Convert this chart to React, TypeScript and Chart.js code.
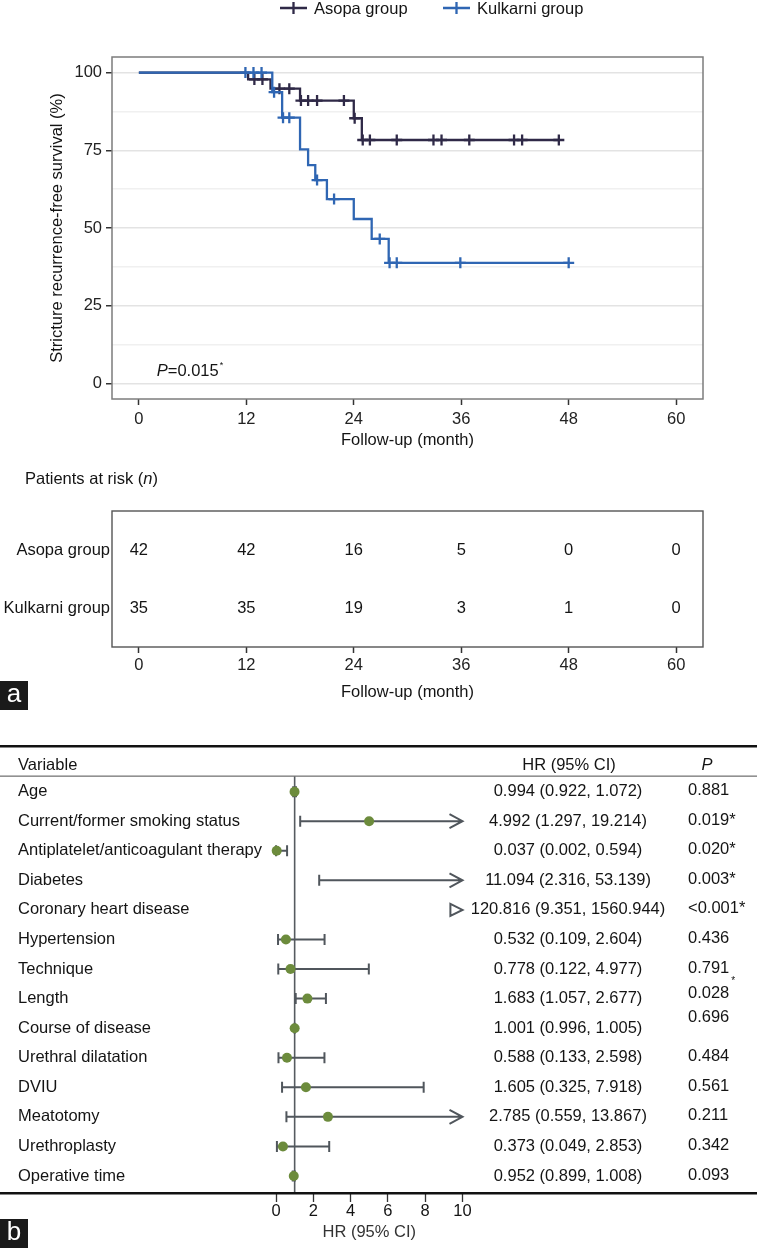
import React, { useEffect, useRef } from 'react';
import { Chart, registerables } from 'chart.js';

Chart.register(...registerables);

// ---------------- Data ----------------
// Kaplan–Meier: Asopa group
const asopaEventTimes = [0, 12.2, 14.7, 18.0, 24.0, 24.9];
const asopaSurvival = [100, 97.8, 94.8, 91.0, 85.3, 78.3];
const asopaCensorTimes = [12.9, 13.8, 15.7, 16.8, 18.1, 18.9, 19.9, 22.9, 24.1, 25.0, 25.8, 28.8, 32.9, 33.8, 36.9, 41.9, 42.8, 46.9];
// Kaplan–Meier: Kulkarni group
const kulkarniEventTimes = [0, 14.9, 16.0, 18.0, 18.9, 19.7, 21.0, 24.0, 26.0, 27.9];
const kulkarniSurvival = [100, 93.7, 85.5, 75.3, 70.2, 65.4, 59.3, 52.9, 46.5, 38.8];
const kulkarniCensorTimes = [11.9, 12.8, 13.7, 15.1, 16.1, 16.8, 19.9, 21.8, 26.9, 28.0, 28.8, 35.9, 48.0];

const monthTicks = [0, 12, 24, 36, 48, 60];
const survivalGrid = [0, 12.5, 25, 37.5, 50, 62.5, 75, 87.5, 100];

// Risk table
const riskGroups = ['Asopa group', 'Kulkarni group'];
const riskTimes = [0, 12, 24, 36, 48, 60];
const asopaAtRisk = [42, 42, 16, 5, 0, 0];
const kulkarniAtRisk = [35, 35, 19, 3, 1, 0];

// Forest plot
const variables = [
  'Age',
  'Current/former smoking status',
  'Antiplatelet/anticoagulant therapy',
  'Diabetes',
  'Coronary heart disease',
  'Hypertension',
  'Technique',
  'Length',
  'Course of disease',
  'Urethral dilatation',
  'DVIU',
  'Meatotomy',
  'Urethroplasty',
  'Operative time',
];
const hazardRatio = [0.994, 4.992, 0.037, 11.094, 120.816, 0.532, 0.778, 1.683, 1.001, 0.588, 1.605, 2.785, 0.373, 0.952];
const lowerCI = [0.922, 1.297, 0.002, 2.316, 9.351, 0.109, 0.122, 1.057, 0.996, 0.133, 0.325, 0.559, 0.049, 0.899];
const upperCI = [1.072, 19.214, 0.594, 53.139, 1560.944, 2.604, 4.977, 2.677, 1.005, 2.598, 7.918, 13.867, 2.853, 1.008];
const pValues = ['0.881', '0.019*', '0.020*', '0.003*', '<0.001*', '0.436', '0.791', '0.028', '0.696', '0.484', '0.561', '0.211', '0.342', '0.093'];
const hrTicks = [0, 2, 4, 6, 8, 10];

// ---------------- Styles ----------------
const FONT = '"Liberation Sans", Arial, Helvetica, sans-serif';
const FS = 16.5;
const PURPLE = '#2f2947';
const BLUE = '#2f66b3';
const GREEN = '#6c8b3c';
const CI_GREY = '#50565c';
const TEXT = '#141414';

function survivalAt(times: number[], surv: number[], t: number) {
  let s = surv[0];
  for (let i = 0; i < times.length; i++) if (times[i] <= t) s = surv[i];
  return s;
}
function stepData(times: number[], surv: number[], censors: number[]) {
  const pts = times.map((t, i) => ({ x: t, y: surv[i] }));
  const end = Math.max(...censors, ...times);
  pts.push({ x: end, y: survivalAt(times, surv, end) });
  return pts;
}
function censorData(times: number[], surv: number[], censors: number[]) {
  return censors.map((c) => ({ x: c, y: survivalAt(times, surv, c) }));
}

const kmDecor = {
  id: 'kmDecor',
  beforeDatasetsDraw(chart: any) {
    const { ctx, chartArea: a } = chart;
    ctx.save();
    ctx.strokeStyle = '#7c7c7c';
    ctx.lineWidth = 1.5;
    ctx.strokeRect(a.left, a.top, a.right - a.left, a.bottom - a.top);
    ctx.restore();
  },
  afterDraw(chart: any) {
    const { ctx, scales } = chart;
    ctx.save();
    // legend
    const items = [
      { label: 'Asopa group', color: PURPLE, x: 280 },
      { label: 'Kulkarni group', color: BLUE, x: 443 },
    ];
    const ly = 8;
    items.forEach((it) => {
      ctx.strokeStyle = it.color;
      ctx.lineWidth = 2.3;
      ctx.beginPath();
      ctx.moveTo(it.x, ly);
      ctx.lineTo(it.x + 27, ly);
      ctx.moveTo(it.x + 13.5, ly - 6);
      ctx.lineTo(it.x + 13.5, ly + 6);
      ctx.stroke();
      ctx.fillStyle = TEXT;
      ctx.font = `${FS}px ${FONT}`;
      ctx.textBaseline = 'middle';
      ctx.textAlign = 'left';
      ctx.fillText(it.label, it.x + 34, ly + 1);
    });
    // P value annotation
    const px = scales.x.getPixelForValue(2);
    const py = scales.y.getPixelForValue(4);
    ctx.fillStyle = TEXT;
    ctx.textBaseline = 'middle';
    ctx.font = `italic ${FS}px ${FONT}`;
    ctx.fillText('P', px, py);
    let w = ctx.measureText('P').width;
    ctx.font = `${FS}px ${FONT}`;
    ctx.fillText('=0.015', px + w, py);
    w += ctx.measureText('=0.015').width;
    ctx.font = `9px ${FONT}`;
    ctx.fillText('*', px + w + 1, py - 6);
    ctx.restore();
  },
};

const riskDecor = {
  id: 'riskDecor',
  afterDraw(chart: any) {
    const { ctx, chartArea: a, scales } = chart;
    ctx.save();
    ctx.strokeStyle = '#555';
    ctx.lineWidth = 1.4;
    ctx.strokeRect(a.left, a.top, a.right - a.left, a.bottom - a.top);
    ctx.fillStyle = TEXT;
    ctx.font = `${FS}px ${FONT}`;
    ctx.textBaseline = 'middle';
    ctx.textAlign = 'center';
    [asopaAtRisk, kulkarniAtRisk].forEach((row, r) => {
      const y = scales.y.getPixelForValue(r + 1);
      row.forEach((n, i) => {
        ctx.fillText(String(n), scales.x.getPixelForValue(riskTimes[i]), y);
      });
    });
    // heading
    ctx.textAlign = 'left';
    const t1 = 'Patients at risk (';
    ctx.fillText(t1, 25, 24);
    let w = ctx.measureText(t1).width;
    ctx.font = `italic ${FS}px ${FONT}`;
    ctx.fillText('n', 25 + w, 24);
    w += ctx.measureText('n').width;
    ctx.font = `${FS}px ${FONT}`;
    ctx.fillText(')', 25 + w, 24);
    // panel label
    ctx.fillStyle = '#1a1a1a';
    ctx.fillRect(0, 226, 28, 29);
    ctx.fillStyle = '#fff';
    ctx.font = `26px ${FONT}`;
    ctx.textAlign = 'center';
    ctx.fillText('a', 14, 240);
    ctx.restore();
  },
};

const forestDecor = {
  id: 'forestDecor',
  beforeDatasetsDraw(chart: any) {
    const { ctx, chartArea: a, scales } = chart;
    const { x, y } = scales;
    ctx.save();
    const x1 = x.getPixelForValue(1);
    ctx.strokeStyle = '#565b60';
    ctx.lineWidth = 1.6;
    ctx.beginPath();
    ctx.moveTo(x1, a.top);
    ctx.lineTo(x1, a.bottom);
    ctx.stroke();
    ctx.strokeStyle = CI_GREY;
    ctx.lineWidth = 2;
    const cap = 5.5;
    variables.forEach((_, i) => {
      const py = y.getPixelForValue(i + 1);
      const lo = lowerCI[i];
      const hi = upperCI[i];
      const pl = x.getPixelForValue(Math.max(lo, x.min));
      const ph = x.getPixelForValue(Math.min(hi, x.max));
      ctx.beginPath();
      if (hi > x.max && ph - pl < 14) {
        ctx.moveTo(pl, py - 6);
        ctx.lineTo(ph, py);
        ctx.lineTo(pl, py + 6);
        ctx.closePath();
        ctx.stroke();
        return;
      }
      ctx.moveTo(pl, py);
      ctx.lineTo(ph, py);
      ctx.moveTo(pl, py - cap);
      ctx.lineTo(pl, py + cap);
      if (hi > x.max) {
        ctx.moveTo(ph - 13, py - 7);
        ctx.lineTo(ph, py);
        ctx.lineTo(ph - 13, py + 7);
      } else {
        ctx.moveTo(ph, py - cap);
        ctx.lineTo(ph, py + cap);
      }
      ctx.stroke();
    });
    ctx.restore();
  },
  afterDraw(chart: any) {
    const { ctx, scales } = chart;
    const { y } = scales;
    const W = chart.width;
    ctx.save();
    // rules
    ctx.fillStyle = '#111';
    ctx.fillRect(0, 25, W, 2.5);
    ctx.fillStyle = '#777';
    ctx.fillRect(0, 55.5, W, 1.3);
    ctx.fillStyle = '#111';
    ctx.fillRect(0, 472, W, 2.5);
    // header
    ctx.fillStyle = TEXT;
    ctx.textBaseline = 'middle';
    ctx.font = `${FS}px ${FONT}`;
    ctx.textAlign = 'left';
    ctx.fillText('Variable', 18, 45);
    ctx.textAlign = 'center';
    ctx.fillText('HR (95% CI)', 569, 45);
    ctx.font = `italic ${FS}px ${FONT}`;
    ctx.fillText('P', 707, 45);
    // rows
    ctx.font = `${FS}px ${FONT}`;
    variables.forEach((v, i) => {
      const py = y.getPixelForValue(i + 1);
      ctx.textAlign = 'left';
      ctx.fillText(v, 18, py);
      ctx.textAlign = 'center';
      const hrText = `${hazardRatio[i].toFixed(3)} (${lowerCI[i].toFixed(3)}, ${upperCI[i].toFixed(3)})`;
      ctx.fillText(hrText, 568, py);
      ctx.textAlign = 'left';
      let dy = -1;
      if (i === 7) dy = -5;
      if (i === 8) dy = -11;
      ctx.fillText(pValues[i], 688, py + dy);
      if (i === 7) {
        const w = ctx.measureText(pValues[i]).width;
        ctx.font = `10px ${FONT}`;
        ctx.fillText('*', 688 + w + 2, py - 17);
        ctx.font = `${FS}px ${FONT}`;
      }
    });
    // panel label
    ctx.fillStyle = '#1a1a1a';
    ctx.fillRect(0, 499, 28, 29);
    ctx.fillStyle = '#fff';
    ctx.font = `26px ${FONT}`;
    ctx.textAlign = 'center';
    ctx.fillText('b', 14, 513);
    ctx.restore();
  },
};

const tickFont = { family: FONT, size: FS };

export default function App() {
  const kmRef = useRef<HTMLCanvasElement>(null);
  const riskRef = useRef<HTMLCanvasElement>(null);
  const forestRef = useRef<HTMLCanvasElement>(null);

  useEffect(() => {
    document.body.style.margin = '0';
    const charts: Chart[] = [];

    charts.push(
      new Chart(kmRef.current as HTMLCanvasElement, {
        type: 'scatter',
        data: {
          datasets: [
            {
              label: 'Kulkarni group',
              data: stepData(kulkarniEventTimes, kulkarniSurvival, kulkarniCensorTimes),
              showLine: true,
              stepped: 'before',
              borderColor: BLUE,
              backgroundColor: BLUE,
              borderWidth: 2.3,
              pointRadius: 0,
            } as any,
            {
              label: 'Kulkarni censored',
              data: censorData(kulkarniEventTimes, kulkarniSurvival, kulkarniCensorTimes),
              showLine: false,
              pointStyle: 'cross',
              pointRadius: 5.5,
              pointBorderWidth: 2.3,
              borderColor: BLUE,
              backgroundColor: BLUE,
            } as any,
            {
              label: 'Asopa group',
              data: stepData(asopaEventTimes, asopaSurvival, asopaCensorTimes),
              showLine: true,
              stepped: 'before',
              borderColor: PURPLE,
              backgroundColor: PURPLE,
              borderWidth: 2.3,
              pointRadius: 0,
            } as any,
            {
              label: 'Asopa censored',
              data: censorData(asopaEventTimes, asopaSurvival, asopaCensorTimes),
              showLine: false,
              pointStyle: 'cross',
              pointRadius: 5.5,
              pointBorderWidth: 2.3,
              borderColor: PURPLE,
              backgroundColor: PURPLE,
            } as any,
          ],
        },
        options: {
          animation: false,
          responsive: false,
          maintainAspectRatio: false,
          layout: { padding: { left: 46, right: 54, top: 57, bottom: 0 } },
          plugins: { legend: { display: false }, tooltip: { enabled: false } },
          scales: {
            x: {
              type: 'linear',
              min: -3,
              max: 63,
              afterBuildTicks: (axis: any) => {
                axis.ticks = monthTicks.map((v) => ({ value: v }));
              },
              afterFit: (s: any) => {
                s.height = 56;
              },
              grid: { drawOnChartArea: false, tickLength: 6, tickColor: '#333', tickWidth: 1.5 },
              border: { display: false },
              ticks: { font: tickFont, color: '#222', padding: 5, maxRotation: 0, autoSkip: false },
              title: { display: true, text: 'Follow-up (month)', font: tickFont, color: TEXT, padding: { top: 0, bottom: 5 } },
            },
            y: {
              type: 'linear',
              min: -5,
              max: 105,
              afterBuildTicks: (axis: any) => {
                axis.ticks = survivalGrid.map((v) => ({ value: v }));
              },
              afterFit: (s: any) => {
                s.width = 66;
              },
              grid: {
                color: (c: any) => (c.tick && c.tick.value % 25 === 0 ? '#e3e3e3' : '#f0f0f0'),
                lineWidth: 1.5,
                tickLength: 6,
                tickColor: (c: any) => (c.tick && c.tick.value % 25 === 0 ? '#333' : 'rgba(0,0,0,0)'),
                tickWidth: 1.5,
              },
              border: { display: false },
              ticks: {
                font: tickFont,
                color: '#222',
                padding: 4,
                autoSkip: false,
                callback: (v: any) => (Number(v) % 25 === 0 ? String(v) : ''),
              },
              title: {
                display: true,
                text: 'Stricture recurrence-free survival (%)',
                font: tickFont,
                color: TEXT,
                padding: { top: 2, bottom: 0 },
              },
            },
          },
        } as any,
        plugins: [kmDecor],
      })
    );

    charts.push(
      new Chart(riskRef.current as HTMLCanvasElement, {
        type: 'scatter',
        data: { datasets: [{ data: [], pointRadius: 0 }] },
        options: {
          animation: false,
          responsive: false,
          maintainAspectRatio: false,
          layout: { padding: { left: 0, right: 54, top: 56, bottom: 0 } },
          plugins: { legend: { display: false }, tooltip: { enabled: false } },
          scales: {
            x: {
              type: 'linear',
              min: -3,
              max: 63,
              afterBuildTicks: (axis: any) => {
                axis.ticks = riskTimes.map((v) => ({ value: v }));
              },
              afterFit: (s: any) => {
                s.height = 73;
              },
              grid: { drawOnChartArea: false, tickLength: 6, tickColor: '#333', tickWidth: 1.5 },
              border: { display: false },
              ticks: { font: tickFont, color: '#222', padding: 3, maxRotation: 0, autoSkip: false },
              title: { display: true, text: 'Follow-up (month)', font: tickFont, color: TEXT, padding: { top: 0, bottom: 18 } },
            },
            y: {
              type: 'linear',
              min: 0.31,
              max: 2.66,
              reverse: true,
              afterBuildTicks: (axis: any) => {
                axis.ticks = riskGroups.map((_, i) => ({ value: i + 1 }));
              },
              afterFit: (s: any) => {
                s.width = 112;
              },
              grid: { display: false, drawTicks: false },
              border: { display: false },
              ticks: {
                font: tickFont,
                color: TEXT,
                padding: 2,
                autoSkip: false,
                callback: (v: any) => riskGroups[Number(v) - 1] ?? '',
              },
            },
          },
        } as any,
        plugins: [riskDecor],
      })
    );

    const forestPoints = hazardRatio
      .map((h, i) => ({ x: h, y: i + 1 }))
      .filter((p) => p.x <= hrTicks[hrTicks.length - 1]);

    charts.push(
      new Chart(forestRef.current as HTMLCanvasElement, {
        type: 'scatter',
        data: {
          datasets: [
            {
              label: 'HR',
              data: forestPoints,
              pointRadius: 5,
              pointBorderWidth: 0,
              backgroundColor: GREEN,
              borderColor: GREEN,
              clip: false,
            } as any,
          ],
        },
        options: {
          animation: false,
          responsive: false,
          maintainAspectRatio: false,
          layout: { padding: { left: 276, right: 294.5, top: 56, bottom: 0 } },
          plugins: { legend: { display: false }, tooltip: { enabled: false } },
          scales: {
            x: {
              type: 'linear',
              min: 0,
              max: 10,
              afterBuildTicks: (axis: any) => {
                axis.ticks = hrTicks.map((v) => ({ value: v }));
              },
              afterFit: (s: any) => {
                s.height = 55;
              },
              grid: { drawOnChartArea: false, tickLength: 9, tickColor: '#333', tickWidth: 1.3 },
              border: { display: false },
              ticks: { font: tickFont, color: TEXT, padding: 0, maxRotation: 0, autoSkip: false },
              title: { display: true, text: 'HR (95% CI)', font: tickFont, color: '#333', padding: { top: 0, bottom: 6 } },
            },
            y: {
              type: 'linear',
              min: 0.47,
              max: 14.575,
              reverse: true,
              display: false,
            },
          },
        } as any,
        plugins: [forestDecor],
      })
    );

    return () => charts.forEach((c) => c.destroy());
  }, []);

  return (
    <div style={{ position: 'relative', width: 757, height: 1248, background: '#fff', overflow: 'hidden' }}>
      <canvas ref={kmRef} width={757} height={455} style={{ position: 'absolute', left: 0, top: 0, width: 757, height: 455 }} />
      <canvas ref={riskRef} width={757} height={265} style={{ position: 'absolute', left: 0, top: 455, width: 757, height: 265 }} />
      <canvas ref={forestRef} width={757} height={528} style={{ position: 'absolute', left: 0, top: 720, width: 757, height: 528 }} />
    </div>
  );
}
